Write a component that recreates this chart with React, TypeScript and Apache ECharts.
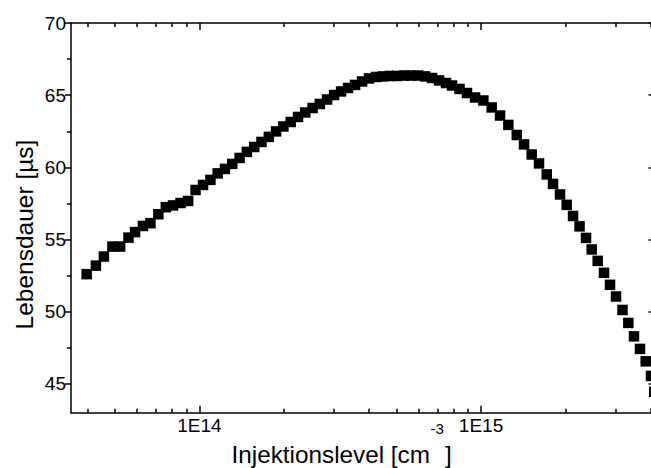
import React, { useEffect, useRef } from 'react';
import * as echarts from 'echarts';

// Injection level [cm^-3]
const injection = [
  3.98e13, 4.29e13, 4.58e13, 4.91e13, 5.23e13, 5.60e13, 5.91e13, 6.30e13, 6.70e13, 7.15e13,
  7.60e13, 8.06e13, 8.57e13, 9.12e13, 9.69e13, 1.030e14, 1.094e14, 1.161e14, 1.232e14, 1.308e14,
  1.389e14, 1.474e14, 1.565e14, 1.661e14, 1.764e14, 1.872e14, 1.987e14, 2.109e14, 2.239e14, 2.376e14,
  2.523e14, 2.677e14, 2.840e14, 3.008e14, 3.184e14, 3.371e14, 3.570e14, 3.780e14, 4.002e14, 4.238e14,
  4.487e14, 4.752e14, 5.031e14, 5.328e14, 5.642e14, 5.974e14, 6.326e14, 6.698e14, 7.093e14, 7.511e14,
  7.889e14, 8.386e14, 8.915e14, 9.520e14, 1.019e15, 1.091e15, 1.168e15, 1.250e15, 1.339e15, 1.421e15,
  1.513e15, 1.606e15, 1.711e15, 1.801e15, 1.907e15, 2.014e15, 2.121e15, 2.237e15, 2.359e15, 2.471e15,
  2.595e15, 2.732e15, 2.870e15, 3.014e15, 3.178e15, 3.333e15, 3.491e15, 3.667e15, 3.842e15, 4.012e15,
  4.12e15,
];

// Lifetime [µs]
const lifetime = [
  52.60, 53.19, 53.82, 54.51, 54.51, 55.13, 55.51, 55.94, 56.13, 56.75,
  57.24, 57.36, 57.53, 57.67, 58.43, 58.78, 59.13, 59.58, 59.89, 60.24,
  60.65, 61.07, 61.41, 61.76, 62.11, 62.49, 62.83, 63.14, 63.49, 63.80,
  64.11, 64.39, 64.70, 65.01, 65.26, 65.50, 65.71, 65.95, 66.16, 66.26,
  66.30, 66.33, 66.33, 66.36, 66.36, 66.36, 66.30, 66.19, 66.02, 65.84,
  65.67, 65.43, 65.15, 64.84, 64.63, 64.15, 63.59, 62.94, 62.24, 61.59,
  60.89, 60.27, 59.51, 58.85, 58.12, 57.40, 56.63, 55.91, 55.11, 54.31,
  53.52, 52.69, 51.86, 51.05, 50.12, 49.22, 48.29, 47.42, 46.56, 45.55,
  44.45,
];

const xMajorTicks = [1e14, 1e15];
const xMinorTicks = [
  4e13, 5e13, 6e13, 7e13, 8e13, 9e13,
  2e14, 3e14, 4e14, 5e14, 6e14, 7e14, 8e14, 9e14,
  2e15, 3e15, 4e15,
];
const yMajorTicks = [45, 50, 55, 60, 65, 70];
const yMinorTicks = [47.5, 52.5, 57.5, 62.5, 67.5];

const X_MIN = 3.5e13;
const X_MAX = 4.2e15;
const Y_MIN = 43;
const Y_MAX = 70;

const FONT = 'Liberation Sans, Arial, Helvetica, sans-serif';

export default function App() {
  const ref = useRef<HTMLDivElement>(null);

  useEffect(() => {
    if (!ref.current) return;
    const chart = echarts.init(ref.current, null, { renderer: 'svg' });

    const lineStyle = { color: '#000', width: 1.5 };
    const tickStyle = { color: '#000', width: 1.5 };

    const xAxisBase = (position: string, ticks: number[], len: number, showLine: boolean, showLabel: boolean) => ({
      type: 'log',
      logBase: 10,
      position,
      min: X_MIN,
      max: X_MAX,
      splitLine: { show: false },
      axisLine: { show: showLine, lineStyle },
      axisTick: {
        show: true,
        inside: true,
        length: len,
        customValues: ticks,
        lineStyle: tickStyle,
      },
      axisLabel: showLabel
        ? {
            show: true,
            customValues: ticks,
            margin: 3,
            color: '#000',
            fontSize: 19,
            fontFamily: FONT,
            formatter: (v: number) => '1E' + Math.round(Math.log10(v)),
          }
        : { show: false },
    });

    const yAxisBase = (position: string, ticks: number[], len: number, inside: boolean, showLine: boolean, showLabel: boolean) => ({
      type: 'value',
      position,
      min: Y_MIN,
      max: Y_MAX,
      splitLine: { show: false },
      axisLine: { show: showLine, lineStyle },
      axisTick: {
        show: true,
        inside,
        length: len,
        customValues: ticks,
        lineStyle: tickStyle,
      },
      axisLabel: showLabel
        ? {
            show: true,
            customValues: ticks,
            margin: 5,
            color: '#000',
            fontSize: 19,
            fontFamily: FONT,
          }
        : { show: false },
    });

    chart.setOption({
      animation: false,
      backgroundColor: '#fff',
      grid: { left: 71, top: 23, width: 585.6, height: 389.7, containLabel: false },
      xAxis: [
        xAxisBase('bottom', xMajorTicks, 7, true, true),
        xAxisBase('bottom', xMinorTicks, 4, false, false),
        xAxisBase('top', xMajorTicks, 7, true, false),
        xAxisBase('top', xMinorTicks, 4, false, false),
      ],
      yAxis: [
        yAxisBase('left', yMajorTicks, 6, false, true, true),
        yAxisBase('left', yMinorTicks, 4, false, false, false),
        yAxisBase('right', yMajorTicks, 8, true, true, false),
        yAxisBase('right', yMinorTicks, 4, true, false, false),
      ],
      series: [
        {
          type: 'scatter',
          xAxisIndex: 0,
          yAxisIndex: 0,
          symbol: 'rect',
          symbolSize: 10.5,
          clip: false,
          itemStyle: { color: '#000', opacity: 1 },
          data: injection.map((x, i) => [x, lifetime[i]]),
        },
      ],
      graphic: [
        {
          type: 'text',
          x: 231.5,
          y: 454.5,
          style: {
            text: 'Injektionslevel [cm',
            fontSize: 24.3,
            fontFamily: FONT,
            fill: '#000',
            align: 'left',
            verticalAlign: 'middle',
          },
        },
        {
          type: 'text',
          x: 430.5,
          y: 428,
          style: {
            text: '-3',
            fontSize: 15,
            fontFamily: FONT,
            fill: '#000',
            align: 'left',
            verticalAlign: 'middle',
          },
        },
        {
          type: 'text',
          x: 445,
          y: 454.5,
          style: {
            text: ']',
            fontSize: 24.3,
            fontFamily: FONT,
            fill: '#000',
            align: 'left',
            verticalAlign: 'middle',
          },
        },
        {
          type: 'text',
          x: 24,
          y: 234.5,
          rotation: Math.PI / 2,
          style: {
            text: 'Lebensdauer [µs]',
            fontSize: 24.5,
            fontFamily: FONT,
            fill: '#000',
            align: 'center',
            verticalAlign: 'middle',
          },
        },
      ],
    });

    return () => chart.dispose();
  }, []);

  return (
    <div
      style={{
        position: 'fixed',
        left: 0,
        top: 0,
        width: 651,
        height: 468,
        overflow: 'hidden',
        background: '#fff',
      }}
    >
      <div ref={ref} style={{ width: 670, height: 468 }} />
    </div>
  );
}
